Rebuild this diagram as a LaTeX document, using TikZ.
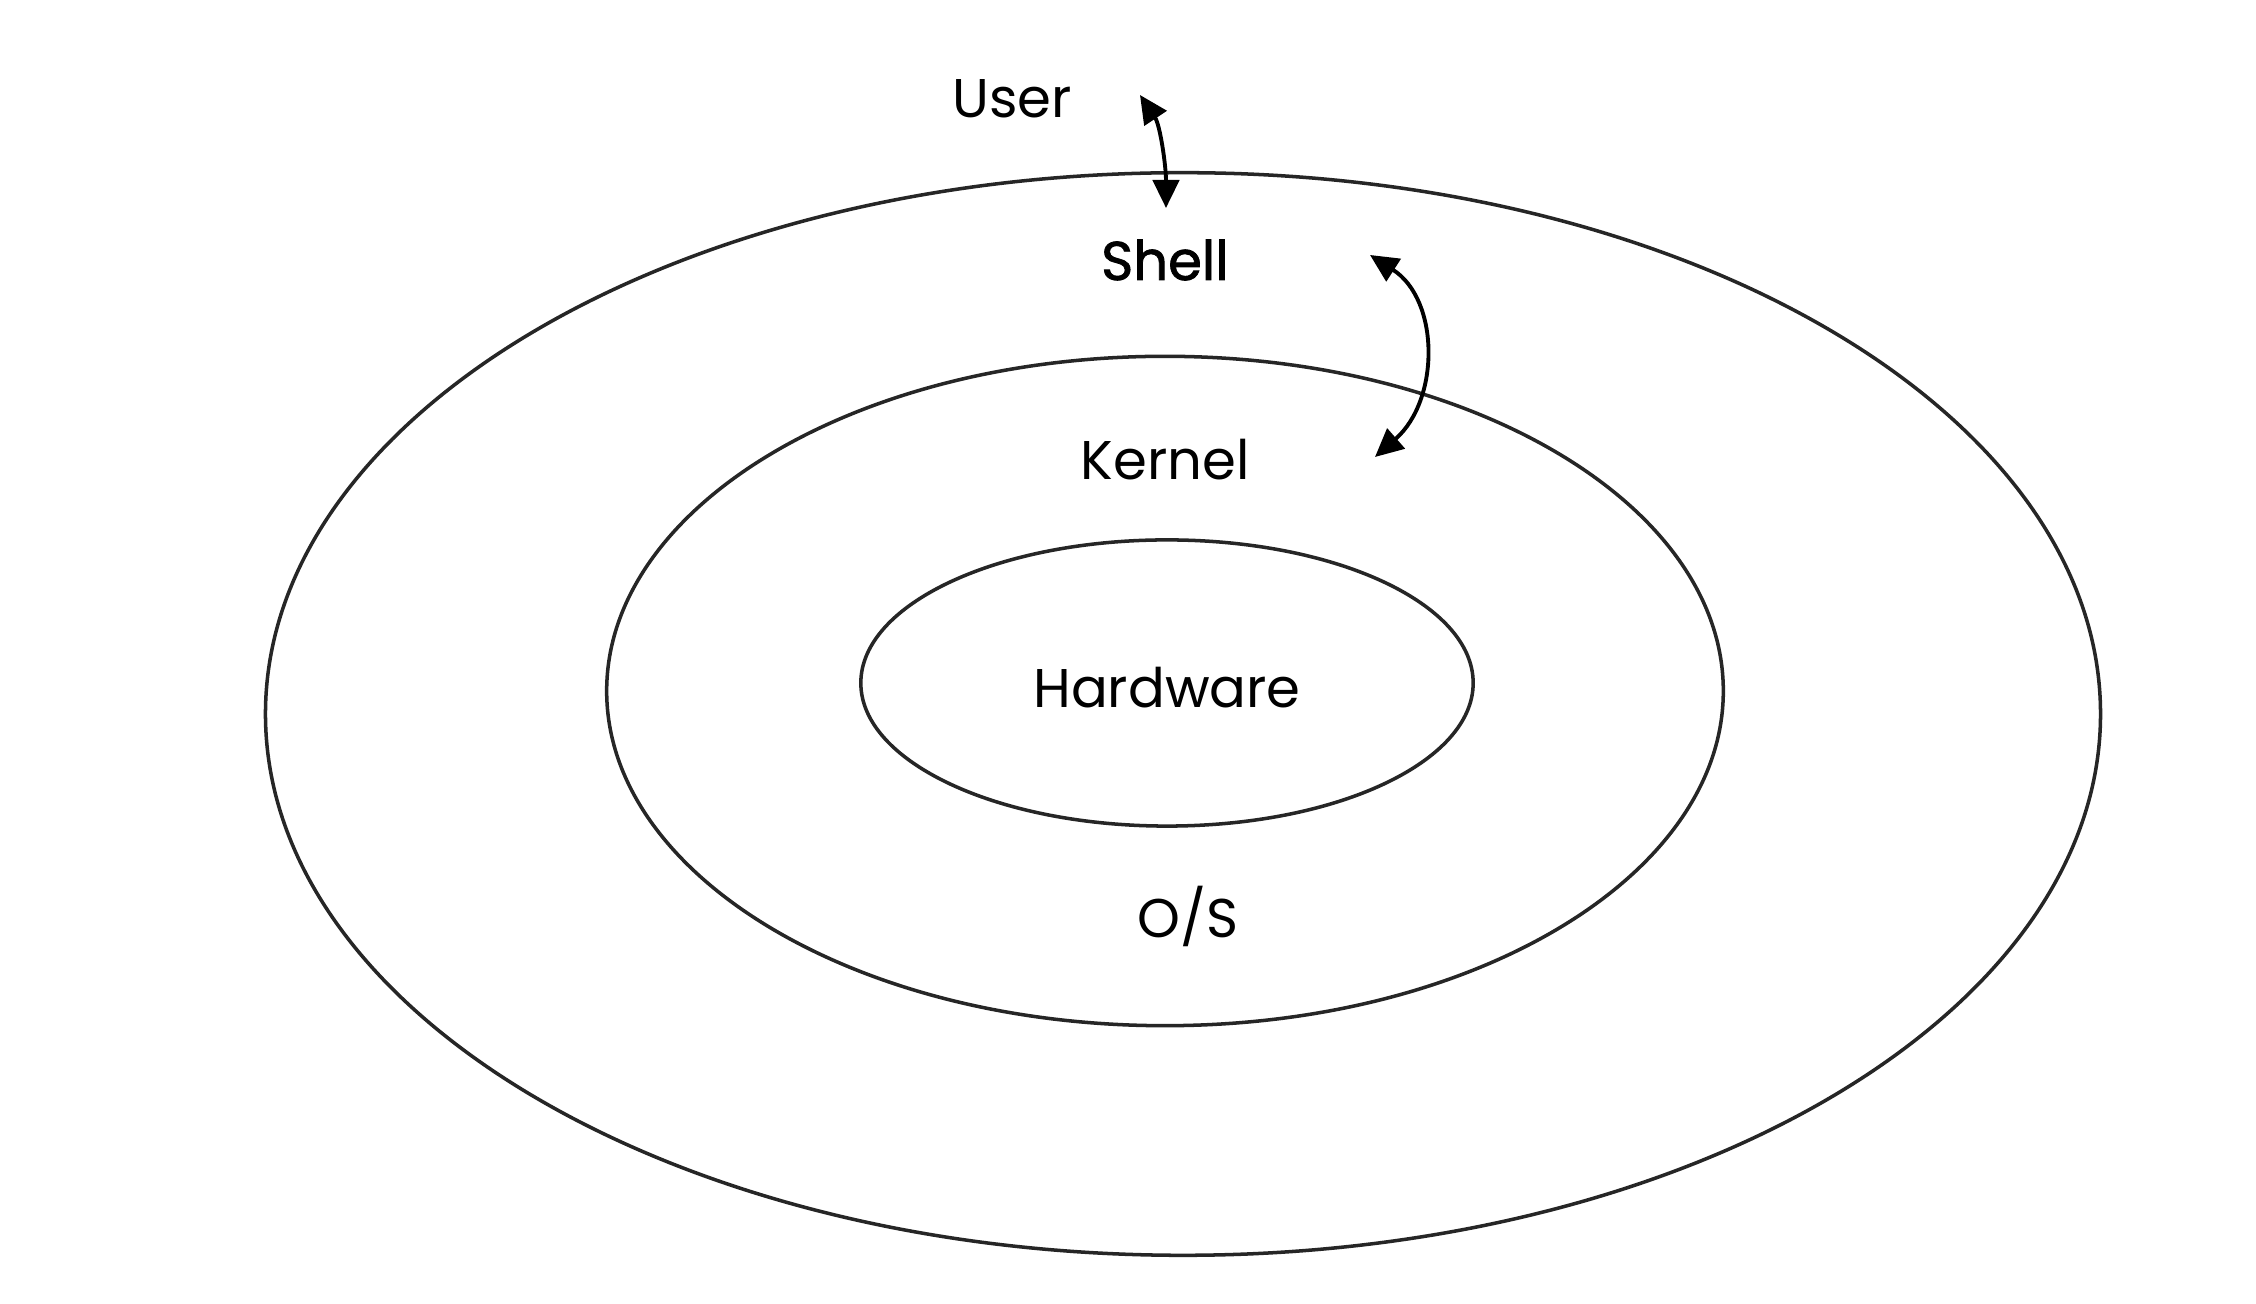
\documentclass[tikz,border=0pt]{standalone}
\usepackage{fontspec}
\setmainfont{Poppins}
\newfontface\shellfont{Poppins}[FakeBold=1.5]
\usetikzlibrary{arrows.meta}
\begin{document}
\begin{tikzpicture}[x=0.01cm,y=-0.01cm,
  ring/.style={draw=black!85,line width=1pt},
  lbl/.style={anchor=base,inner sep=0pt,font=\fontsize{15.5}{18}\selectfont},
  link/.style={line width=1.1pt,{Triangle[length=8pt,width=7.5pt]}-{Triangle[length=8pt,width=7.5pt]}}]
\useasboundingbox[fill=white] (0,0) rectangle (2256,1304);
\draw[ring] (1183,714) ellipse [x radius=9.17cm,y radius=5.41cm];
\draw[ring] (1165,691) ellipse [x radius=5.58cm,y radius=3.345cm];
\draw[ring] (1167,683) ellipse [x radius=3.06cm,y radius=1.43cm];
\node[lbl] (user) at (1012,118) {User};
\node[lbl,font=\fontsize{15.5}{18}\selectfont\shellfont] (shell) at (1165,280) {Shell};
\node[lbl] (kernel) at (1165,480) {Kernel};
\node[lbl] (hw) at (1167,708) {Hardware};
\node[lbl] (os) at (1188,938) {O/S};
\coordinate (a1) at (1140,95);
\coordinate (a2) at (1166,208);
\coordinate (b1) at (1370,255);
\coordinate (b2) at (1375,457);
\draw[link] (a1) .. controls (1160,125) and (1166,165) .. (a2);
\draw[link] (b1) .. controls (1440,300) and (1440,400) .. (b2);
\end{tikzpicture}
\end{document}
